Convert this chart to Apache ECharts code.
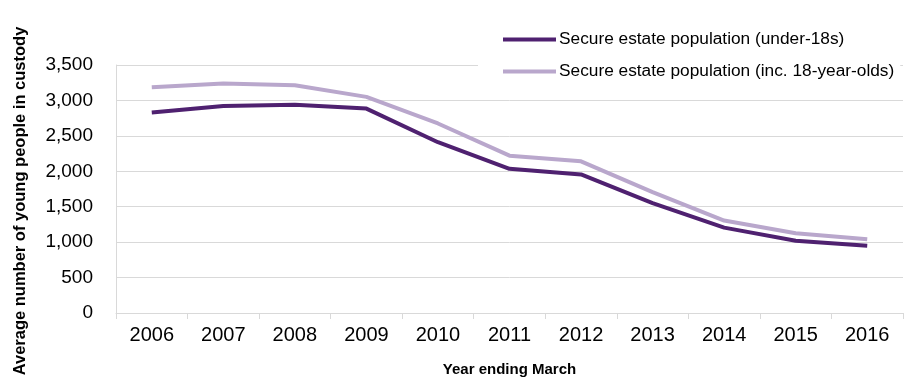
<!DOCTYPE html>
<html>
<head>
<meta charset="utf-8">
<script src="https://cdn.jsdelivr.net/npm/echarts@6/dist/echarts.min.js"></script>
<style>
  html, body { margin: 0; padding: 0; background: #fff; }
  #chart { width: 904px; height: 379px; }
</style>
</head>
<body>
<div id="chart"></div>
<script>
// Years (ending March)
const years = ['2006', '2007', '2008', '2009', '2010', '2011', '2012', '2013', '2014', '2015', '2016'];

// Average number of young people in custody
const under18s = [2830, 2920, 2940, 2885, 2410, 2035, 1955, 1550, 1205, 1020, 950];
const inc18YearOlds = [3185, 3240, 3215, 3050, 2675, 2220, 2140, 1705, 1305, 1125, 1040];

const seriesNames = ['Secure estate population (under-18s)', 'Secure estate population (inc. 18-year-olds)'];
const seriesColors = ['#4f2170', '#b9a7cc'];

const yMin = 0, yMax = 3500, yStep = 500;

const font = '"Liberation Sans", Arial, Helvetica, sans-serif';
const gridColor = '#d9d9d9';

const chart = echarts.init(document.getElementById('chart'), null, { renderer: 'canvas' });

chart.setOption({
  animation: false,
  backgroundColor: '#fff',
  textStyle: { fontFamily: font, color: '#000' },
  grid: { left: 116, right: 1, top: 65, bottom: 66, containLabel: false, outerBoundsMode: 'none' },
  legend: {
    orient: 'vertical',
    left: 478,
    top: 24,
    padding: [5, 6, 6, 25],
    backgroundColor: '#fff',
    icon: 'rect',
    itemWidth: 53,
    itemHeight: 4,
    itemGap: 11,
    textStyle: { fontFamily: font, fontSize: 17.3, color: '#000', lineHeight: 21, padding: [0, 0, 0, -2] },
    data: seriesNames
  },
  xAxis: {
    type: 'category',
    data: years,
    boundaryGap: true,
    name: 'Year ending March',
    nameLocation: 'middle',
    nameGap: 49,
    nameTextStyle: { fontFamily: font, fontSize: 15, fontWeight: 'bold', color: '#000' },
    axisLine: { lineStyle: { color: gridColor, width: 1 } },
    axisTick: { show: true, length: 6, lineStyle: { color: gridColor } },
    axisLabel: { fontFamily: font, fontSize: 20, color: '#000', margin: 12 }
  },
  yAxis: {
    type: 'value',
    min: yMin,
    max: yMax,
    interval: yStep,
    name: 'Average number of young people in custody',
    nameLocation: 'middle',
    nameGap: 87,
    nameRotate: 90,
    nameTextStyle: { fontFamily: font, fontSize: 16.5, fontWeight: 'bold', color: '#000', padding: [0, 24, 0, 0] },
    axisLine: { show: true, lineStyle: { color: gridColor, width: 1 } },
    axisTick: { show: false },
    splitLine: { lineStyle: { color: gridColor, width: 1 } },
    axisLabel: {
      fontFamily: font, fontSize: 19, color: '#000', margin: 23,
      formatter: v => v.toLocaleString('en-GB')
    }
  },
  series: [
    {
      name: seriesNames[0],
      type: 'line',
      data: under18s,
      symbol: 'none',
      lineStyle: { color: seriesColors[0], width: 4 },
      itemStyle: { color: seriesColors[0] },
      z: 3
    },
    {
      name: seriesNames[1],
      type: 'line',
      data: inc18YearOlds,
      symbol: 'none',
      lineStyle: { color: seriesColors[1], width: 4 },
      itemStyle: { color: seriesColors[1] },
      z: 2
    }
  ]
});
</script>
</body>
</html>
